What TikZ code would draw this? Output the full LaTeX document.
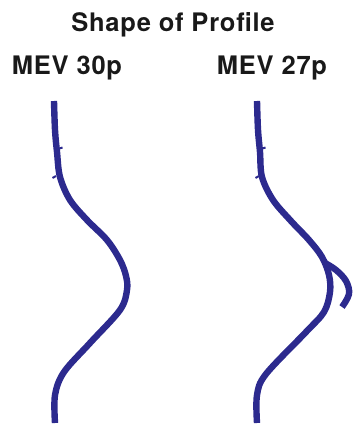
\documentclass[tikz,border=0pt]{standalone}
\usepackage{fontspec}
\newfontfamily\lblfont[LetterSpace=3]{TeX Gyre Heros}
\definecolor{profblue}{RGB}{44,42,142}
\begin{document}
\begin{tikzpicture}[x=1pt,y=-1pt,
  lbl/.style={font=\lblfont\bfseries\fontsize{25.5}{30}\selectfont, text=black!90, inner sep=0pt, anchor=base},
  prof/.style={draw=profblue, line width=6.4pt, line join=round},
  tick/.style={draw=profblue, line width=2pt}]
\useasboundingbox (0,0) rectangle (353,425);
\node[lbl] (title) at (173,31.5) {Shape of Profile};
\node[lbl] (left) at (67,75) {MEV 30p};
\node[lbl] (right) at (272,75) {MEV 27p};
% left profile
\draw[prof] plot[smooth, tension=0.55] coordinates {(54,101) (55,130) (57,152) (60,177) (70,200) (87,220) (107,240) (120,260) (126,276) (127,290) (120,310) (90,343) (64,372) (55,395) (55,423)};
\draw[tick] (58,149) -- (62.5,147.5);
\draw[tick] (56,176) -- (52.5,178);
% right profile
\draw[prof] plot[smooth, tension=0.55] coordinates {(257,101) (258,130) (260,152) (262,177) (273,200) (291,221) (309,240) (322,257) (329,275) (330,292) (324,312) (306,332) (266,374) (257,395) (257,423)};
\draw[prof] plot[smooth, tension=0.6] coordinates {(325,263) (336,270) (346,281) (349,294) (342,307)};
\draw[tick] (261,149) -- (265.5,147.5);
\draw[tick] (259,176) -- (255.5,178);
\end{tikzpicture}
\end{document}
